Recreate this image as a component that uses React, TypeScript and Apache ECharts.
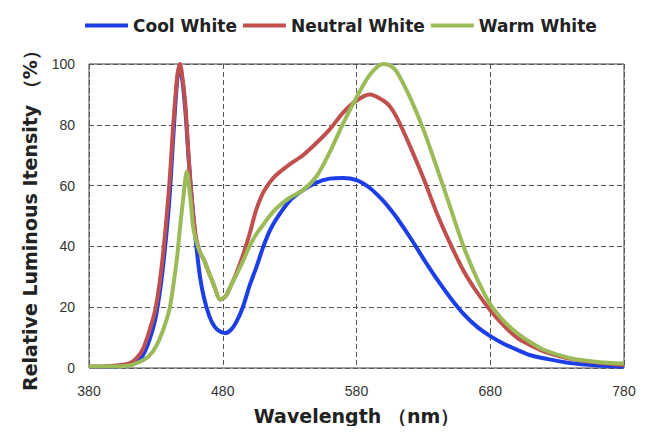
import React, { useEffect, useRef } from "react";
import * as echarts from "echarts";

const seriesNames = ["Cool White", "Neutral White", "Warm White"];
const colors = ["#1c3ee6", "#c0504d", "#9bbb59"];

const wavelengths = [
  380, 390, 400, 410, 415, 420, 425, 430, 435, 440, 443, 446, 448, 450, 452, 453, 454, 455, 456, 457, 458, 460,
  463, 466, 470, 474, 478, 482, 486, 490, 495, 500, 505, 510, 515, 520, 530, 540, 550, 560, 570, 580, 590,
  600, 605, 610, 620, 630, 640, 650, 660, 670, 680, 690, 700, 710, 720, 740, 760, 780,
];

const coolWhite = [
  0.3, 0.3, 0.5, 1, 2, 4, 9, 17, 32, 55, 76, 95, 99, 94, 85, 79, 72, 66, 60, 55, 50, 41,
  30, 23, 17, 13.5, 12, 11.5, 12.5, 15, 20, 27, 33, 39.5, 45, 49, 55, 58.5, 61, 62.3, 62.5, 61.8, 59.2,
  55, 52.4, 49.5, 43, 36, 29.3, 23.2, 17.8, 13.6, 10.5, 8, 6, 4.2, 3.2, 1.6, 0.8, 0.4,
];

const neutralWhite = [
  0.5, 0.5, 0.8, 1.5, 3, 6, 12, 20, 36, 60, 80, 96, 100, 95, 87, 80, 73, 66, 60, 55, 50, 43,
  38, 35.5, 31, 26.5, 22.5, 23.5, 27, 31, 37, 44, 52, 57.5, 61, 63.5, 67, 70, 74, 78.5, 84, 88, 90,
  88, 86, 82.5, 73, 62.5, 51, 41, 32, 25, 19, 14, 10, 7.5, 5.5, 3, 1.8, 1,
];

const warmWhite = [
  0.5, 0.5, 0.5, 0.8, 1.5, 2.5, 4, 7, 12, 19, 27, 37, 46, 54, 62, 64.6, 63, 59, 55, 50, 46, 42,
  38, 35.5, 31, 26.5, 22.5, 23.5, 27, 30.5, 35, 40, 44, 47, 50, 52.5, 56, 58.5, 63, 71, 80.5, 89, 96.5,
  100, 99.5, 97.5, 89, 78.5, 66, 53, 40, 29.5, 21, 15.5, 11.5, 8.5, 6, 3.2, 2, 1.5,
];

const yTicks = { min: 0, max: 100, interval: 20 };
const xTicks = { min: 380, max: 780, interval: 100 };

const allValues = [coolWhite, neutralWhite, warmWhite];

export default function App() {
  const ref = useRef<HTMLDivElement>(null);
  useEffect(() => {
    if (!ref.current) return;
    const chart = echarts.init(ref.current, null, { renderer: "svg" });
    chart.setOption({
      animation: false,
      backgroundColor: "#ffffff",
      legend: {
        top: 12,
        left: 80,
        itemWidth: 43,
        itemHeight: 4,
        itemGap: 6,
        icon: "rect",
        textStyle: {
          fontFamily: "DejaVu Sans",
          fontWeight: "bold",
          fontSize: 17,
          color: "#222",
          padding: [0, 0, 0, 0],
        },
        data: seriesNames,
      },
      grid: {
        left: 89,
        right: 30,
        top: 64,
        bottom: 66,
        show: true,
        borderColor: "#444",
        borderWidth: 1,
        backgroundColor: "transparent",
      },
      xAxis: {
        type: "value",
        min: xTicks.min,
        max: xTicks.max,
        interval: xTicks.interval,
        name: "Wavelength （nm）",
        nameLocation: "middle",
        nameGap: 38,
        nameTextStyle: {
          fontFamily: "DejaVu Sans",
          fontWeight: "bold",
          fontSize: 19,
          color: "#222",
        },
        axisLine: { show: false },
        axisTick: { show: false },
        axisLabel: {
          fontFamily: "Liberation Sans",
          fontSize: 14,
          color: "#333",
          margin: 16,
        },
        splitLine: {
          show: true,
          lineStyle: { color: "#555", type: [5, 3], width: 1 },
        },
      },
      yAxis: {
        type: "value",
        min: yTicks.min,
        max: yTicks.max,
        interval: yTicks.interval,
        name: "Relative Luminous Itensity （%）",
        nameLocation: "middle",
        nameRotate: 90,
        nameGap: 50,
        nameTextStyle: {
          fontFamily: "DejaVu Sans",
          fontWeight: "bold",
          fontSize: 19,
          color: "#222",
        },
        axisLine: { show: false },
        axisTick: { show: false },
        axisLabel: {
          fontFamily: "Liberation Sans",
          fontSize: 14,
          color: "#333",
          margin: 14,
        },
        splitLine: {
          show: true,
          lineStyle: { color: "#555", type: [5, 3], width: 1 },
        },
      },
      series: seriesNames.map((name, i) => ({
        name,
        type: "line",
        smooth: 0.3,
        showSymbol: false,
        symbol: "none",
        color: colors[i],
        lineStyle: { width: 4, color: colors[i] },
        data: wavelengths.map((w, j) => [w, allValues[i][j]]),
      })),
    });
    return () => chart.dispose();
  }, []);
  return <div ref={ref} style={{ width: 654, height: 434, margin: -8 }} />;
}
